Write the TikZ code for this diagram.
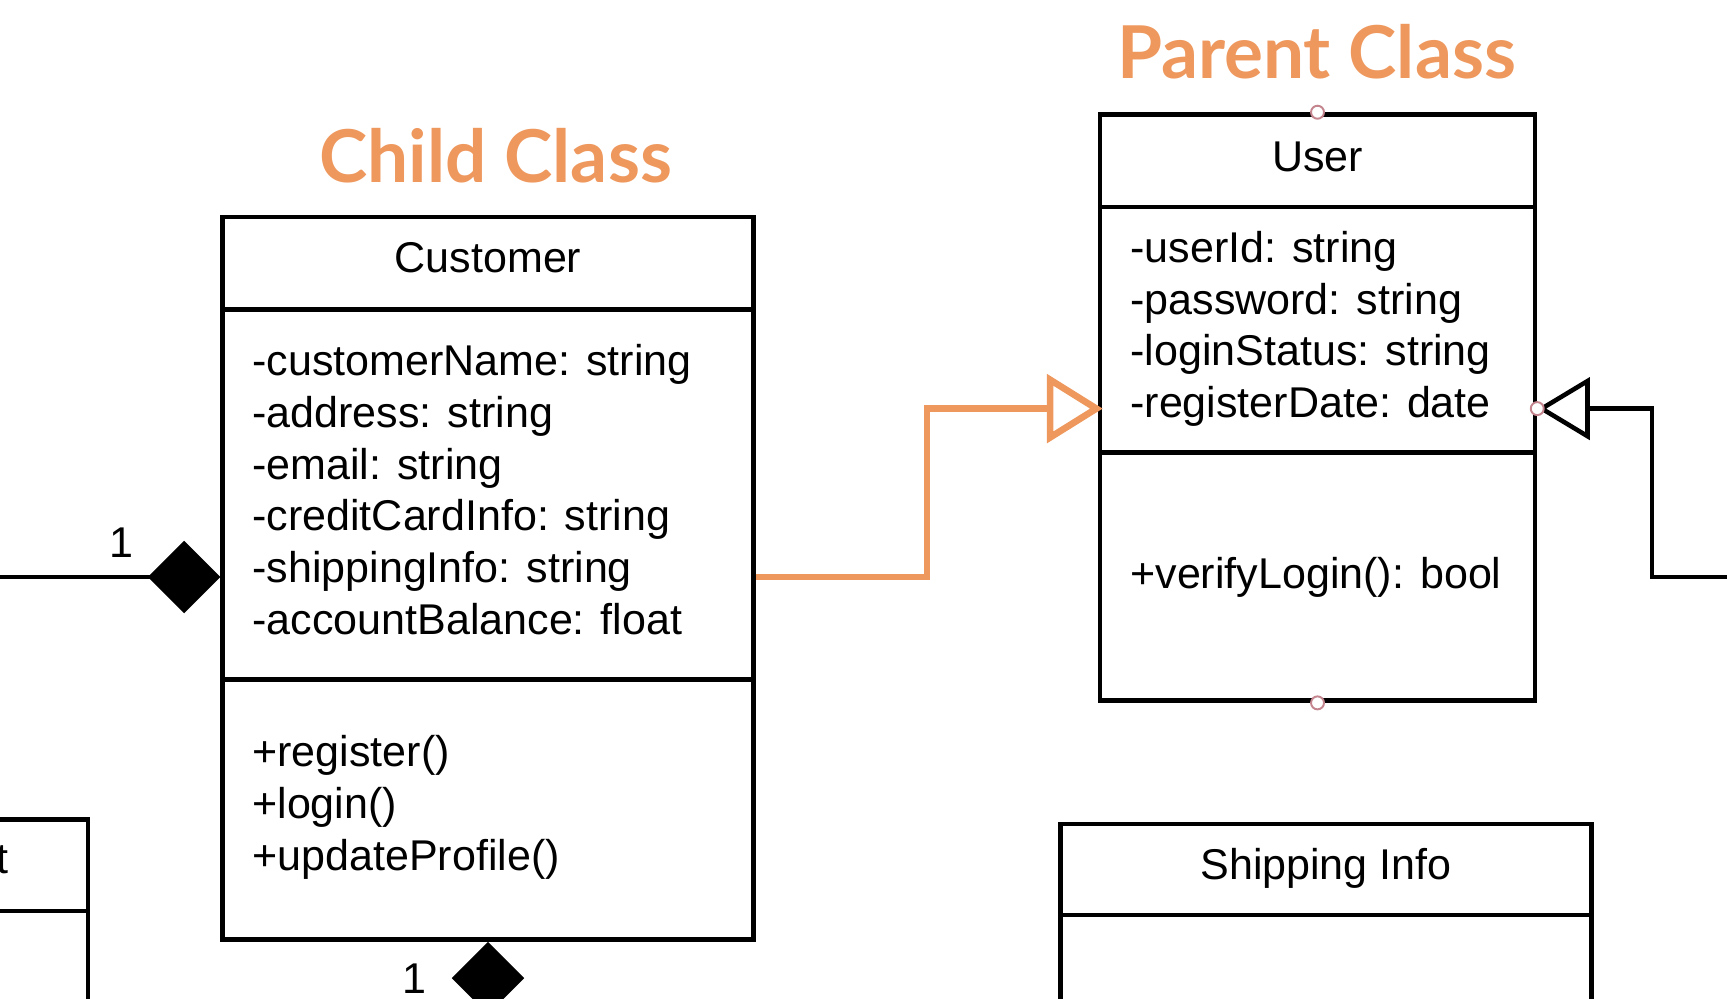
\documentclass[tikz,border=0pt]{standalone}
\usepackage{fontspec}
\setmainfont{Liberation Sans}
\newfontfamily\titlefont{Lato}
\usetikzlibrary{arrows.meta,positioning}
\definecolor{accent}{HTML}{EE985E}
\definecolor{handle}{HTML}{C4858F}

\begin{document}
\begin{tikzpicture}[x=0.02cm, y=-0.02cm,
    box/.style={draw=black, line width=2.6pt, inner sep=0pt},
    member/.style={anchor=west, align=left, inner sep=0pt, font=\fontsize{24.5}{29.4}\selectfont},
    cname/.style={anchor=base, inner sep=0pt, font=\fontsize{24.5}{29.4}\selectfont},
    heading/.style={text=accent, inner sep=0pt, font=\titlefont\bfseries\fontsize{41.5}{48}\selectfont},
    genline/.style={line width=2.6pt, -{Triangle[open, length=1.05cm, width=1.24cm]}},
    compline/.style={line width=2.4pt, -{Diamond[length=1.45cm, width=1.45cm]}},
    handle/.style={circle, draw=handle, fill=white, line width=1.1pt, minimum size=0.26cm, inner sep=0pt},
]
\useasboundingbox (0,0) rectangle (1727,998);
\clip (0,0) rectangle (1727,998);

% headings
\node[heading] (childTitle) at (495.6,156) {Child Class};
\node[heading] (parentTitle) at (1316.5,52) {Parent Class};

% Customer
\node[box, minimum width=10.62cm, minimum height=1.85cm] (custHead) at (488,263.25) {};
\node[box, minimum width=10.62cm, minimum height=7.40cm] (custAttr) at (488,494.5) {};
\node[box, minimum width=10.62cm, minimum height=5.20cm] (custOps) at (488,809.5) {};
\node[cname] (custName) at (488,272) {Customer};
\node[member] (custFields) at (252,489.5) {-customerName: string\\-address: string\\-email: string\\-creditCardInfo: string\\-shippingInfo: string\\-accountBalance: float};
\node[member] (custMethods) at (252,807.5) {+register()\\+login()\\+updateProfile()};

% User
\node[box, minimum width=8.70cm, minimum height=1.85cm] (userHead) at (1317.5,160.75) {};
\node[box, minimum width=8.70cm, minimum height=4.91cm] (userAttr) at (1317.5,329.9) {};
\node[box, minimum width=8.70cm, minimum height=4.96cm] (userOps) at (1317.5,576.6) {};
\node[cname] (userName) at (1317.5,171.8) {User};
\node[member] (userFields) at (1130,329) {-userId: string\\-password: string\\-loginStatus: string\\-registerDate: date};
\node[member] (userMethods) at (1130,577) {+verifyLogin(): bool};

% Shipping Info
\node[box, minimum width=10.62cm, minimum height=1.82cm] (shipHead) at (1326,869.5) {};
\node[box, minimum width=10.62cm, minimum height=6cm] (shipBody) at (1326,1065) {};
\node[cname] (shipName) at (1326,879) {Shipping Info};

% box on the left edge
\node[box, minimum width=10.62cm, minimum height=1.83cm] (leftHead) at (-177.5,865.25) {};
\node[box, minimum width=10.62cm, minimum height=6cm] (leftBody) at (-177.5,1061) {};
\node[cname, anchor=base east] (leftName) at (9,873) {t};

% connectors
\coordinate (offLeft) at (-40,577);
\coordinate (offRight) at (1760,577);
\coordinate (offBottom) at (488,1100);
\draw[genline, draw=accent, line width=3.8pt, shorten >=-0.1cm, -{Triangle[open, length=1.12cm, width=1.36cm]}]
    (custAttr.east |- 0,577) -| (927,408.6) -- (userAttr.west |- 0,408.6);
\draw[genline] (offRight) -| (1652,408.6) -- (userAttr.east |- 0,408.6);
\draw[compline] (offLeft) -- (custAttr.west |- offLeft);
\draw[compline] (offBottom) -- (custOps.south);
\node[cname, anchor=center] (leftMult) at (121,543) {1};
\node[cname, anchor=center] (bottomMult) at (414,979) {1};

% selection handles
\node[handle] (hTop) at (userHead.north) {};
\node[handle] (hBottom) at (userOps.south) {};
\node[handle] (hRight) at (userAttr.east |- 0,408.6) {};
\end{tikzpicture}
\end{document}
